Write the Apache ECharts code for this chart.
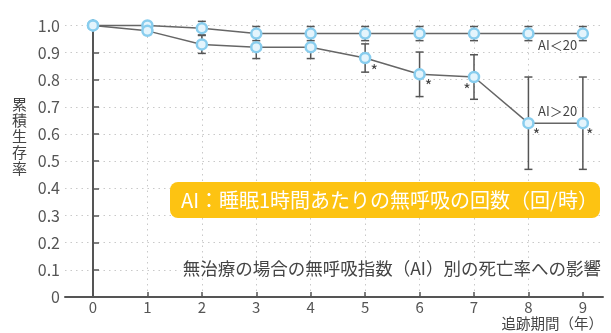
<!DOCTYPE html>
<html>
<head>
<meta charset="utf-8">
<script src="https://cdn.jsdelivr.net/npm/echarts@6/dist/echarts.min.js"></script>
<style>
  html, body { margin: 0; padding: 0; background: #fff; }
  #chart { width: 611px; height: 333px; }
</style>
</head>
<body>
<div id="chart"></div>
<script>
// 追跡期間（年）
const years = [0, 1, 2, 3, 4, 5, 6, 7, 8, 9];
// 累積生存率
const aiUnder20 = [1.0, 1.0, 0.99, 0.97, 0.97, 0.97, 0.97, 0.97, 0.97, 0.97];
const aiOver20 = [1.0, 0.98, 0.93, 0.92, 0.92, 0.88, 0.82, 0.81, 0.64, 0.64];
// エラーバー（片側の幅）
const errUnder20 = [0, 0.01, 0.025, 0.026, 0.026, 0.026, 0.026, 0.026, 0.026, 0.026];
const errOver20 = [0, 0.013, 0.033, 0.042, 0.042, 0.052, 0.082, 0.082, 0.17, 0.17];
// 有意差（*）のある年
const starYears = [5, 6, 7, 8, 9];

const fontJP = '"Noto Sans CJK JP", "Noto Sans", sans-serif';
const inkColor = '#555';

// * の位置（点からのずれ）
const starOffset = { 5: [9, 13], 6: [9, 12], 7: [-7, 13], 8: [8, 12], 9: [7, 12] };

function errorBars(vals, errs) {
  return {
    type: 'custom',
    silent: true,
    z: 2,
    encode: { x: 0, y: [1, 2] },
    data: years.map((x, i) => [x, vals[i] - errs[i], vals[i] + errs[i]]),
    renderItem: (params, api) => {
      const lo = api.coord([api.value(0), api.value(1)]);
      const hi = api.coord([api.value(0), api.value(2)]);
      if (Math.abs(lo[1] - hi[1]) < 0.5) return;
      const w = 4;
      const st = { stroke: inkColor, lineWidth: 1.5 };
      return {
        type: 'group',
        children: [
          { type: 'line', shape: { x1: lo[0], y1: lo[1], x2: hi[0], y2: hi[1] }, style: st },
          { type: 'line', shape: { x1: lo[0] - w, y1: lo[1], x2: lo[0] + w, y2: lo[1] }, style: st },
          { type: 'line', shape: { x1: hi[0] - w, y1: hi[1], x2: hi[0] + w, y2: hi[1] }, style: st }
        ]
      };
    }
  };
}

const pointStyle = {
  color: '#e4f4fc',
  borderColor: '#88cdee',
  borderWidth: 2.5
};

function lineSeries(name, vals, withStars) {
  return {
    name: name,
    type: 'line',
    z: 3,
    symbol: 'circle',
    symbolSize: 10,
    itemStyle: pointStyle,
    lineStyle: { color: '#666', width: 1.5 },
    data: years.map((x, i) => {
      const item = { value: [x, vals[i]] };
      if (withStars && starYears.includes(x)) {
        item.label = {
          show: true,
          formatter: '*',
          position: 'inside',
          offset: starOffset[x],
          color: '#444',
          fontSize: 16,
          fontFamily: fontJP
        };
      }
      return item;
    })
  };
}

const option = {
  animation: false,
  grid: { left: 65, right: 8, top: 20, bottom: 36 },
  xAxis: {
    type: 'value',
    min: -0.514,
    max: 9.37,
    axisLine: { lineStyle: { color: inkColor, width: 2 } },
    axisTick: {
      inside: true,
      length: 5,
      customValues: years,
      lineStyle: { color: inkColor, width: 1.5 }
    },
    axisLabel: {
      customValues: years,
      margin: 3,
      color: inkColor,
      fontSize: 15,
      fontFamily: fontJP
    },
    splitLine: {
      show: true,
      showMinLine: false,
      showMaxLine: false,
      lineStyle: { color: '#c9c9c9', type: [1.5, 4], width: 1 }
    }
  },
  yAxis: {
    type: 'value',
    min: 0,
    max: 1.02,
    interval: 0.1,
    axisLine: { show: true, lineStyle: { color: inkColor, width: 2 } },
    axisTick: { show: true, inside: true, length: 6, lineStyle: { color: inkColor, width: 1.5 } },
    axisLabel: {
      showMaxLabel: false,
      margin: 5,
      color: inkColor,
      fontSize: 16,
      fontFamily: fontJP,
      formatter: v => (v === 0 ? '0' : v.toFixed(1))
    },
    splitLine: {
      show: true,
      showMinLine: false,
      showMaxLine: false,
      lineStyle: { color: '#c9c9c9', type: [1.5, 4], width: 1 }
    }
  },
  series: [
    errorBars(aiUnder20, errUnder20),
    errorBars(aiOver20, errOver20),
    lineSeries('AI<20', aiUnder20, false),
    lineSeries('AI>20', aiOver20, true)
  ],
  graphic: [
    {
      type: 'text',
      left: 12,
      top: 96,
      style: {
        text: '累\n積\n生\n存\n率',
        font: '15px ' + fontJP,
        lineHeight: 16,
        fill: '#444'
      }
    },
    {
      type: 'rect',
      shape: { x: 170, y: 182, width: 430, height: 36, r: 8 },
      style: { fill: '#fdc312' },
      z: 10
    },
    {
      type: 'text',
      x: 181,
      y: 200,
      z: 11,
      style: {
        text: 'AI：睡眠1時間あたりの無呼吸の回数（回/時）',
        font: '20px ' + fontJP,
        fill: '#fff',
        verticalAlign: 'middle'
      }
    },
    {
      type: 'text',
      x: 603,
      y: 268,
      z: 10,
      style: {
        text: '無治療の場合の無呼吸指数（AI）別の死亡率への影響',
        font: '17.5px ' + fontJP,
        fill: '#444',
        align: 'right',
        verticalAlign: 'middle',
        backgroundColor: '#fff',
        padding: [1, 2]
      }
    },
    {
      type: 'text',
      x: 603,
      y: 323,
      style: {
        text: '追跡期間（年）',
        font: '14.5px ' + fontJP,
        fill: '#444',
        align: 'right',
        verticalAlign: 'middle'
      }
    },
    {
      type: 'text',
      x: 538,
      y: 45,
      z: 10,
      style: {
        text: 'AI＜20',
        font: '13px ' + fontJP,
        fill: '#444',
        verticalAlign: 'middle',
        backgroundColor: '#fff'
      }
    },
    {
      type: 'text',
      x: 538,
      y: 111,
      z: 10,
      style: {
        text: 'AI＞20',
        font: '13px ' + fontJP,
        fill: '#444',
        verticalAlign: 'middle',
        backgroundColor: '#fff'
      }
    }
  ]
};

const myChart = echarts.init(document.getElementById('chart'));
myChart.setOption(option);
</script>
</body>
</html>
